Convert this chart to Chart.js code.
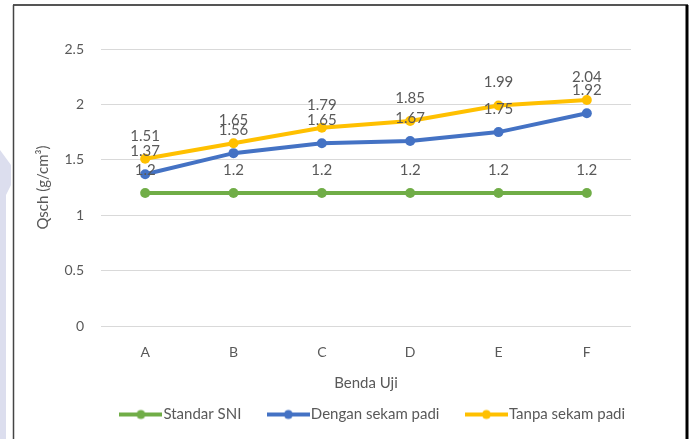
<!DOCTYPE html>
<html>
<head>
<meta charset="utf-8">
<script src="https://cdn.jsdelivr.net/npm/chart.js@4/dist/chart.umd.min.js"></script>
<style>
  html, body { margin: 0; padding: 0; background: #ffffff; }
  #wrap { position: relative; width: 693px; height: 439px; }
  canvas { display: block; }
</style>
</head>
<body>
<div id="wrap"><canvas id="c" width="693" height="439"></canvas></div>
<script>
// ---- data ----
const categories = ['A', 'B', 'C', 'D', 'E', 'F'];
const standarSNI = [1.2, 1.2, 1.2, 1.2, 1.2, 1.2];
const denganSekam = [1.37, 1.56, 1.65, 1.67, 1.75, 1.92];
const tanpaSekam = [1.51, 1.65, 1.79, 1.85, 1.99, 2.04];
const seriesNames = ['Standar SNI', 'Dengan sekam padi', 'Tanpa sekam padi'];
const yTicks = [0, 0.5, 1, 1.5, 2, 2.5];

const COLORS = ['#70AD47', '#4472C4', '#FFC000'];
const FONT = 'Lato, "Open Sans", sans-serif';
const TEXT = '#595959';
const LEGEND_DX = 45;
const LEGEND_DY = -7;

function legendMarker(color) {
  const cv = document.createElement('canvas');
  cv.width = 43; cv.height = 12;
  const g = cv.getContext('2d');
  g.strokeStyle = color; g.lineWidth = 4;
  g.beginPath(); g.moveTo(0, 6); g.lineTo(43, 6); g.stroke();
  g.fillStyle = color;
  g.beginPath(); g.arc(21.5, 6, 4.5, 0, Math.PI * 2); g.fill();
  return cv;
}

const dataLabels = {
  id: 'dataLabels',
  afterDatasetsDraw(chart) {
    const ctx = chart.ctx;
    ctx.save();
    ctx.font = '15px ' + FONT;
    ctx.fillStyle = TEXT;
    ctx.textAlign = 'center';
    ctx.textBaseline = 'middle';
    chart.data.datasets.forEach((ds, i) => {
      const meta = chart.getDatasetMeta(i);
      meta.data.forEach((pt, j) => {
        ctx.fillText(String(ds.data[j]), pt.x, pt.y - 23);
      });
    });
    ctx.restore();
  }
};

const legendShift = {
  id: 'legendShift',
  afterLayout(chart) {
    const lg = chart.legend;
    if (!lg) return;
    lg.left += LEGEND_DX; lg.right += LEGEND_DX;
    lg.top += LEGEND_DY; lg.bottom += LEGEND_DY;
  }
};

const frame = {
  id: 'frame',
  beforeDraw(chart) {
    const ctx = chart.ctx;
    ctx.save();
    ctx.fillStyle = '#ffffff';
    ctx.fillRect(0, 0, chart.width, chart.height);
    // faint watermark shape at the left edge
    ctx.fillStyle = '#dcdeee';
    ctx.beginPath();
    ctx.moveTo(0, 150); ctx.lineTo(11, 165); ctx.lineTo(11, 185);
    ctx.lineTo(6, 195); ctx.lineTo(6, 439); ctx.lineTo(0, 439); ctx.closePath();
    ctx.fill();
    ctx.restore();
  },
  afterDraw(chart) {
    const ctx = chart.ctx;
    ctx.save();
    ctx.strokeStyle = '#555555';
    ctx.lineWidth = 2;
    ctx.beginPath(); ctx.moveTo(13, 5); ctx.lineTo(688, 5); ctx.stroke();
    ctx.lineWidth = 1.5;
    ctx.strokeStyle = '#444444';
    ctx.beginPath(); ctx.moveTo(13.5, 5); ctx.lineTo(13.5, 439); ctx.stroke();
    ctx.strokeStyle = '#000000';
    ctx.lineWidth = 3;
    ctx.beginPath(); ctx.moveTo(687, 5); ctx.lineTo(687, 439); ctx.stroke();
    ctx.restore();
  }
};

const seriesData = [standarSNI, denganSekam, tanpaSekam];
const datasets = seriesData.map((d, i) => ({
  label: seriesNames[i],
  data: d,
  borderColor: COLORS[i],
  backgroundColor: COLORS[i],
  pointBackgroundColor: COLORS[i],
  pointBorderColor: COLORS[i],
  borderWidth: 4,
  pointRadius: 5,
  pointBorderWidth: 0,
  pointStyle: 'circle',
  tension: 0,
  order: 3 - i
}));

new Chart(document.getElementById('c'), {
  type: 'line',
  data: { labels: categories, datasets },
  plugins: [frame, dataLabels, legendShift],
  options: {
    responsive: false,
    devicePixelRatio: 1,
    animation: false,
    layout: { padding: { left: 30, top: 49, right: 62, bottom: 0 } },
    plugins: {
      legend: {
        position: 'bottom',
        labels: {
          usePointStyle: true,
          pointStyleWidth: 30,
          font: { family: FONT, size: 15 },
          color: TEXT,
          padding: 32,
          generateLabels(chart) {
            return chart.data.datasets.map((ds, i) => ({
              text: ds.label,
              fillStyle: COLORS[i],
              strokeStyle: COLORS[i],
              pointStyle: legendMarker(COLORS[i]),
              fontColor: TEXT,
              lineWidth: 0,
              hidden: false,
              datasetIndex: i
            }));
          }
        }
      },
      tooltip: { enabled: false }
    },
    scales: {
      x: {
        offset: true,
        grid: { display: false, drawTicks: false },
        border: { display: false },
        ticks: { font: { family: FONT, size: 14 }, color: TEXT, padding: 18 },
        title: { display: true, text: 'Benda Uji', font: { family: FONT, size: 15 }, color: TEXT, padding: { top: 6, bottom: -10 } },
        afterFit(s) { s.height = 56; }
      },
      y: {
        min: 0, max: 2.5,
        afterBuildTicks(s) { s.ticks = yTicks.map(v => ({ value: v })); },
        grid: { color: '#d9d9d9', lineWidth: 1, drawTicks: false },
        border: { display: false },
        ticks: { font: { family: FONT, size: 14 }, color: TEXT, padding: 17, callback: v => String(v) },
        title: { display: true, text: 'Qsch (g/cm³)', font: { family: FONT, size: 15 }, color: TEXT, padding: { top: 4, bottom: 0 } },
        afterFit(s) { s.width = 71; }
      }
    }
  }
});
</script>
</body>
</html>
